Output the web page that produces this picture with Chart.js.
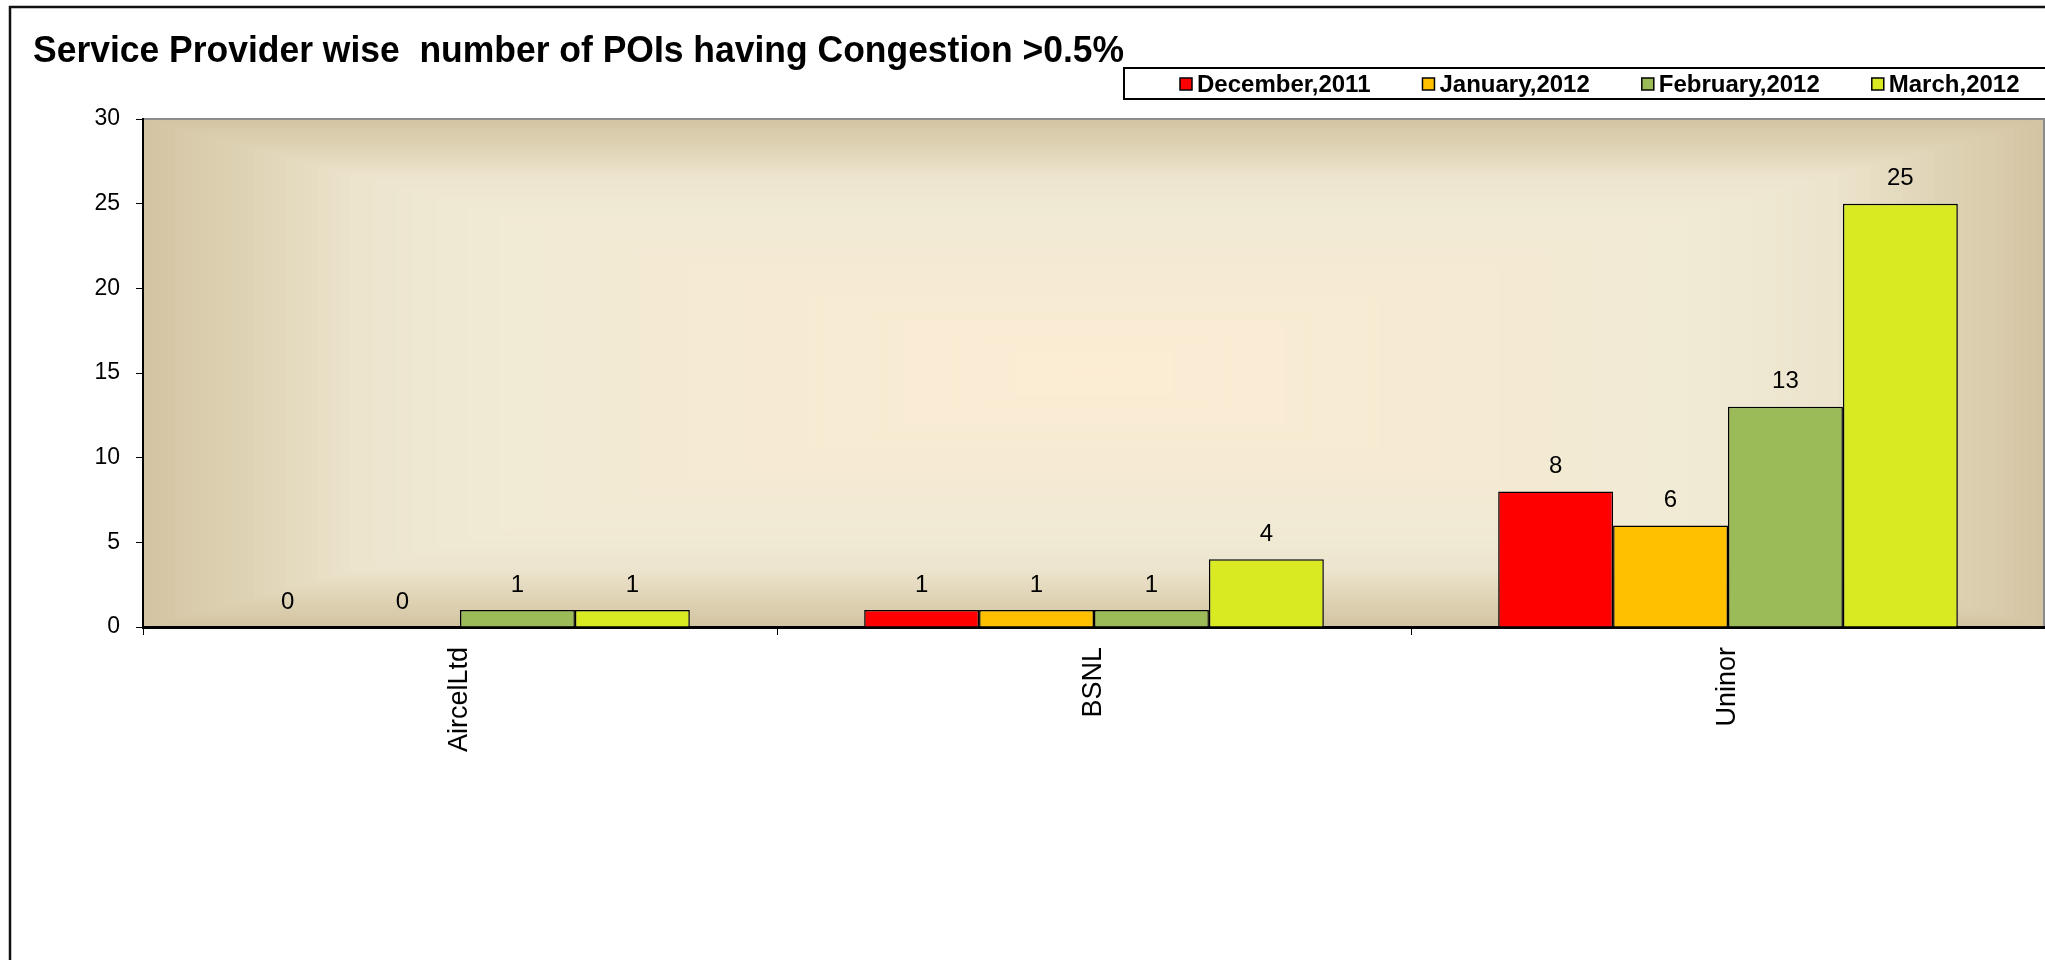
<!DOCTYPE html>
<html>
<head>
<meta charset="utf-8">
<script src="https://cdn.jsdelivr.net/npm/chart.js@4"></script>
<style>
  body { margin:0; background:#fff; }
  canvas { display:block; }
</style>
</head>
<body>
<canvas id="poi" width="2045" height="960"></canvas>
<script>
var title_text = 'Service Provider wise  number of POIs having Congestion >0.5%';
var providers = ['AircelLtd', 'BSNL', 'Uninor'];
var months = ['December,2011', 'January,2012', 'February,2012', 'March,2012'];
var dec_2011 = [0, 1, 8];
var jan_2012 = [0, 1, 6];
var feb_2012 = [1, 1, 13];
var mar_2012 = [1, 4, 25];
var y_ticks = [0, 5, 10, 15, 20, 25, 30];
var colors = ['#ff0000', '#ffc000', '#9bbb59', '#d9ea23'];

var font_name = '"Liberation Sans", Arial, sans-serif';

// parchment style fill behind the bars, edges tan, middle cream
var plotBg = {
    id: 'plotBg',
    beforeDraw: function(chart) {
        var ctx = chart.ctx;
        var a = chart.chartArea;
        var w = a.right - a.left, h = a.bottom - a.top;
        var stops = [[0, [211,197,163]], [0.1, [222,210,180]], [0.22, [236,228,205]], [0.35, [240,234,213]], [0.6, [245,234,211]], [1, [252,236,212]]];
        function col(t) {
            for (var k = 1; k < stops.length; k++) {
                if (t <= stops[k][0]) {
                    var f = (t - stops[k-1][0]) / (stops[k][0] - stops[k-1][0]);
                    var c0 = stops[k-1][1], c1 = stops[k][1];
                    return 'rgb(' + Math.round(c0[0] + (c1[0]-c0[0])*f) + ',' + Math.round(c0[1] + (c1[1]-c0[1])*f) + ',' + Math.round(c0[2] + (c1[2]-c0[2])*f) + ')';
                }
            }
            return 'rgb(252,236,212)';
        }
        ctx.save();
        var n = 120;
        for (var i = 0; i < n; i++) {
            var t = i / n;
            var dx = t * w / 2, dy = t * h / 2;
            ctx.fillStyle = col(t);
            ctx.fillRect(a.left + dx, a.top + dy, w - 2*dx, h - 2*dy);
        }
        // grey frame on top / right of plot
        ctx.strokeStyle = '#8c8c8c';
        ctx.lineWidth = 2;
        ctx.beginPath();
        ctx.moveTo(a.left, a.top);
        ctx.lineTo(a.right - 1, a.top);
        ctx.lineTo(a.right - 1, a.bottom);
        ctx.stroke();
        ctx.restore();
    }
};

// value on top of every bar
var barValues = {
    id: 'barValues',
    afterDatasetsDraw: function(chart) {
        var ctx = chart.ctx;
        ctx.save();
        ctx.font = '24px ' + font_name;
        ctx.fillStyle = '#000';
        ctx.textAlign = 'center';
        ctx.textBaseline = 'bottom';
        chart.data.datasets.forEach(function(ds, i) {
            chart.getDatasetMeta(i).data.forEach(function(bar, j) {
                ctx.fillText(String(ds.data[j]), bar.x, bar.y - 13);
            });
        });
        ctx.restore();
    }
};

// title, legend box and outer frame
var frame = {
    id: 'frame',
    afterDraw: function(chart) {
        var ctx = chart.ctx;
        ctx.save();
        ctx.strokeStyle = '#111';
        ctx.lineWidth = 2.5;
        ctx.strokeRect(10, 7, 2100, 1000);

        ctx.fillStyle = '#000';
        ctx.font = 'bold 37px ' + font_name;
        ctx.textAlign = 'left';
        ctx.textBaseline = 'alphabetic';
        ctx.fillText(title_text, 33, 62, 1091);

        // legend
        ctx.fillStyle = '#fff';
        ctx.fillRect(1124, 68, 940, 31);
        ctx.strokeStyle = '#000';
        ctx.lineWidth = 2;
        ctx.strokeRect(1124, 68, 940, 31);
        ctx.font = 'bold 24px ' + font_name;
        ctx.textBaseline = 'middle';
        var x = 1180;
        chart.data.datasets.forEach(function(ds) {
            ctx.fillStyle = ds.backgroundColor;
            ctx.fillRect(x, 78, 12, 12);
            ctx.lineWidth = 1.5;
            ctx.strokeRect(x, 78, 12, 12);
            ctx.fillStyle = '#000';
            ctx.fillText(ds.label, x + 17, 85);
            x += 17 + ctx.measureText(ds.label).width + 52;
        });
        ctx.restore();
    }
};

var series = [dec_2011, jan_2012, feb_2012, mar_2012];
var datasets = [];
for (var i = 0; i < months.length; i++) {
    datasets.push({
        label: months[i],
        data: series[i],
        backgroundColor: colors[i],
        borderColor: '#000',
        borderWidth: 1.5,
        categoryPercentage: 0.725,
        barPercentage: 1
    });
}

new Chart(document.getElementById('poi').getContext('2d'), {
    type: 'bar',
    data: { labels: providers, datasets: datasets },
    plugins: [plotBg, barValues, frame],
    options: {
        responsive: false,
        animation: false,
        layout: { padding: { top: 119, right: 0, left: 0, bottom: 0 } },
        plugins: {
            legend: { display: false },
            title: { display: false },
            tooltip: { enabled: false }
        },
        scales: {
            x: {
                afterFit: function(scale) { scale.height = 333; },
                border: { color: '#000', width: 3 },
                grid: { drawOnChartArea: false, color: '#000', tickLength: 8, offset: true },
                ticks: {
                    minRotation: 90, maxRotation: 90,
                    padding: 12,
                    color: '#000',
                    font: { family: font_name, size: 27 }
                }
            },
            y: {
                min: 0, max: 30,
                afterFit: function(scale) { scale.width = 143; },
                afterBuildTicks: function(scale) {
                    scale.ticks = y_ticks.map(function(v) { return { value: v }; });
                },
                border: { color: '#000', width: 2 },
                grid: { drawOnChartArea: false, color: '#000', tickLength: 7 },
                ticks: {
                    padding: 16,
                    color: '#000',
                    font: { family: font_name, size: 23 }
                }
            }
        }
    }
});
</script>
</body>
</html>
